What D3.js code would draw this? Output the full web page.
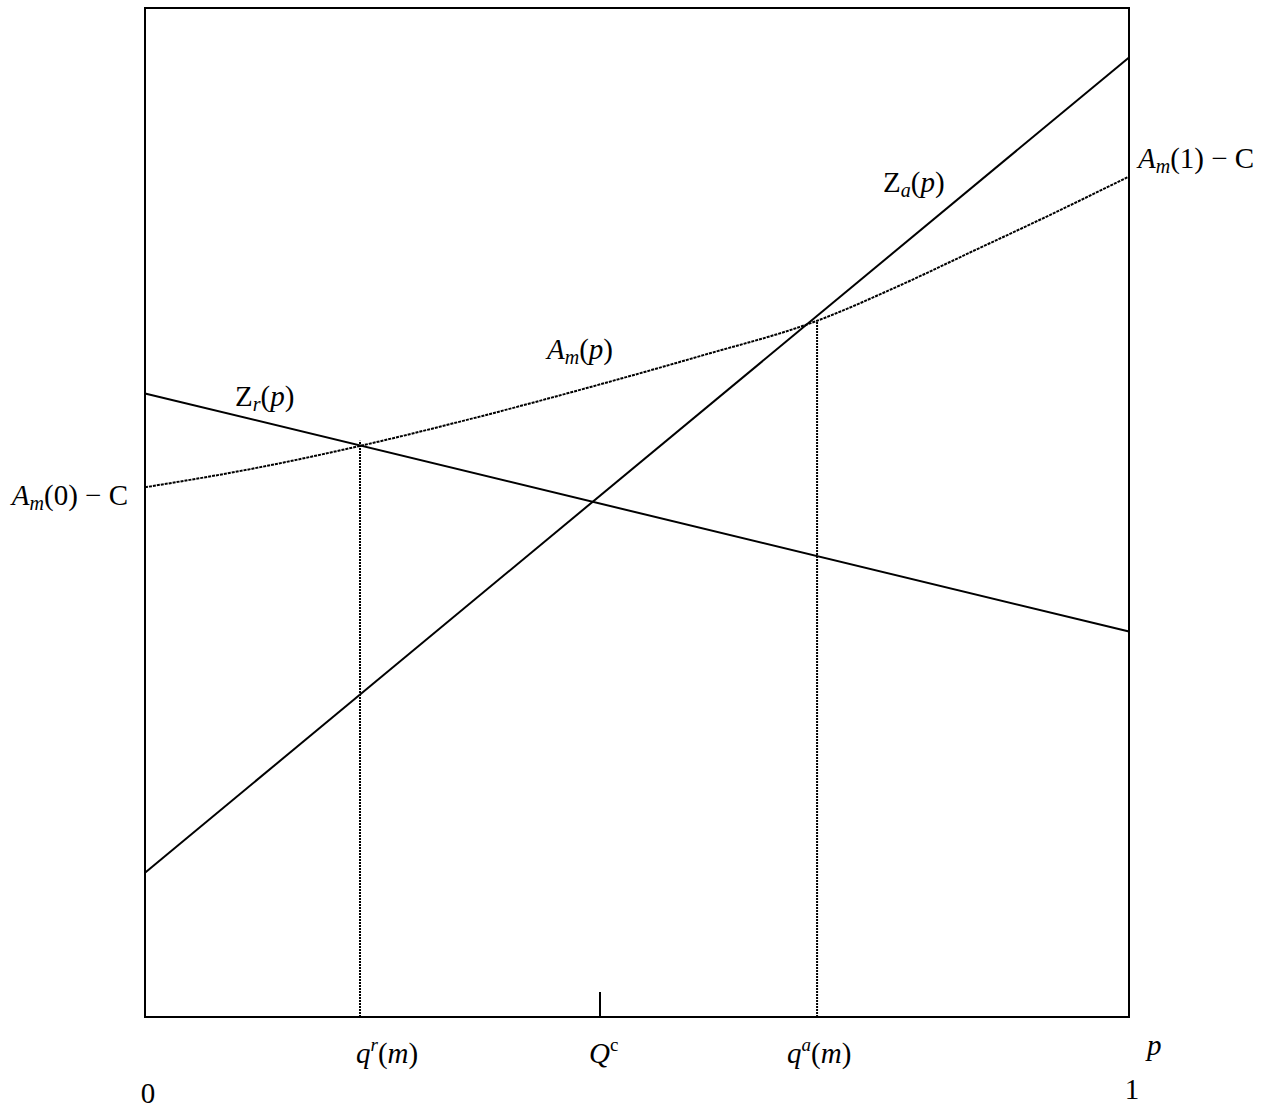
<!DOCTYPE html>
<html>
<head>
<meta charset="utf-8">
<script src="https://cdn.jsdelivr.net/npm/d3@7"></script>
<style>
    body { margin: 0; background: #fff; }
    text { font-family: "Liberation Serif", "Times New Roman", Times, serif; font-size: 29px; fill: #000; }
</style>
</head>
<body>
<div id="chart"></div>
<script>
(function () {
    'use strict';

    // p on the horizontal axis (arbitrary units 0..100)
    var pGrid = [0, 0.107, 0.2185, 0.34, 0.455, 0.564, 0.683, 0.767, 0.8435, 0.92, 1];
    var amValues = [52.5, 54.3, 56.6, 59.5, 62.5, 65.5, 69.0, 72.5, 76.0, 79.5, 83.3];
    var zaEnds = [14.3, 95.1];   // Z_a(p) at p = 0 and p = 1
    var zrEnds = [61.8, 38.2];   // Z_r(p) at p = 0 and p = 1
    var markerP = [0.2185, 0.4624, 0.683];   // q^r(m), Q^c, q^a(m)
    var dropTops = [57.1, 69.0];             // tops of the dotted drop lines

    var w = 1276, h = 1108;
    var x = d3.scaleLinear().domain([0, 1]).range([145, 1129]);
    var y = d3.scaleLinear().domain([0, 100]).range([1017, 8]);

    var svg = d3.select("#chart").append("svg")
        .attr("width", w)
        .attr("height", h);

    // frame
    svg.append("rect")
        .attr("x", x(0)).attr("y", y(100))
        .attr("width", x(1) - x(0)).attr("height", y(0) - y(100))
        .style("fill", "none").style("stroke", "#000").style("stroke-width", 2);

    // Q^c tick
    svg.append("line")
        .attr("x1", x(markerP[1])).attr("x2", x(markerP[1]))
        .attr("y1", y(0)).attr("y2", y(0) - 25)
        .style("stroke", "#000").style("stroke-width", 2);

    // dotted drop lines at q^r(m) and q^a(m)
    svg.selectAll("line.drop")
        .data([markerP[0], markerP[2]])
        .enter().append("line")
        .attr("class", "drop")
        .attr("x1", function (d) { return x(d); })
        .attr("x2", function (d) { return x(d); })
        .attr("y1", y(0))
        .attr("y2", function (d, i) { return y(dropTops[i]); })
        .style("stroke", "#000").style("stroke-width", 2)
        .style("stroke-dasharray", "2,1");

    var line = d3.line()
        .x(function (d) { return x(d[0]); })
        .y(function (d) { return y(d[1]); });

    // A_m(p) curve (dotted)
    svg.append("path")
        .datum(d3.zip(pGrid, amValues))
        .attr("d", line.curve(d3.curveMonotoneX))
        .style("fill", "none").style("stroke", "#000").style("stroke-width", 2)
        .style("stroke-dasharray", "3,1");

    // straight lines Z_a and Z_r
    var straight = d3.line()
        .x(function (d) { return x(d[0]); })
        .y(function (d) { return y(d[1]); });
    [zaEnds, zrEnds].forEach(function (ends) {
        svg.append("path")
            .datum(d3.zip([0, 1], ends))
            .attr("d", straight)
            .style("fill", "none").style("stroke", "#000").style("stroke-width", 2);
    });

    // label helper: parts = [text, style] where style has i (italic), sub, sup
    function label(px, py, parts, anchor) {
        var t = svg.append("text")
            .attr("x", px).attr("y", py)
            .attr("text-anchor", anchor || "start");
        var shift = 0;
        parts.forEach(function (p) {
            var s = t.append("tspan").text(p[0]);
            var o = p[1] || "";
            if (o.indexOf("i") >= 0) s.style("font-style", "italic");
            var target = 0;
            if (o.indexOf("sub") >= 0) { target = 5; s.style("font-size", "20px"); }
            if (o.indexOf("sup") >= 0) { target = -12; s.style("font-size", "19px"); }
            if (target !== shift) { s.attr("dy", target - shift); shift = target; }
        });
        return t;
    }

    var MINUS = "\u2212";

    label(128, 505, [["A", "i"], ["m", "i sub"], ["(0) " + MINUS + " C"]], "end");
    label(1138, 168, [["A", "i"], ["m", "i sub"], ["(1) " + MINUS + " C"]]);
    label(883, 192, [["Z"], ["a", "i sub"], ["("], ["p", "i"], [")"]]);
    label(235, 406, [["Z"], ["r", "i sub"], ["("], ["p", "i"], [")"]]);
    label(547, 359, [["A", "i"], ["m", "i sub"], ["("], ["p", "i"], [")"]]);

    // axis labels under the markers
    label(x(markerP[0]) - 4, 1063, [["q", "i"], ["r", "i sup"], ["("], ["m", "i"], [")"]]);
    label(x(markerP[1]) - 11, 1063, [["Q", "i"], ["c", "sup"]]);
    label(x(markerP[2]) - 30, 1063, [["q", "i"], ["a", "i sup"], ["("], ["m", "i"], [")"]]);
    label(1147, 1055, [["p", "i"]]);
    label(x(0) + 3, 1103, [["0"]], "middle");
    label(x(1) + 3, 1099, [["1"]], "middle");
})();
</script>
</body>
</html>
